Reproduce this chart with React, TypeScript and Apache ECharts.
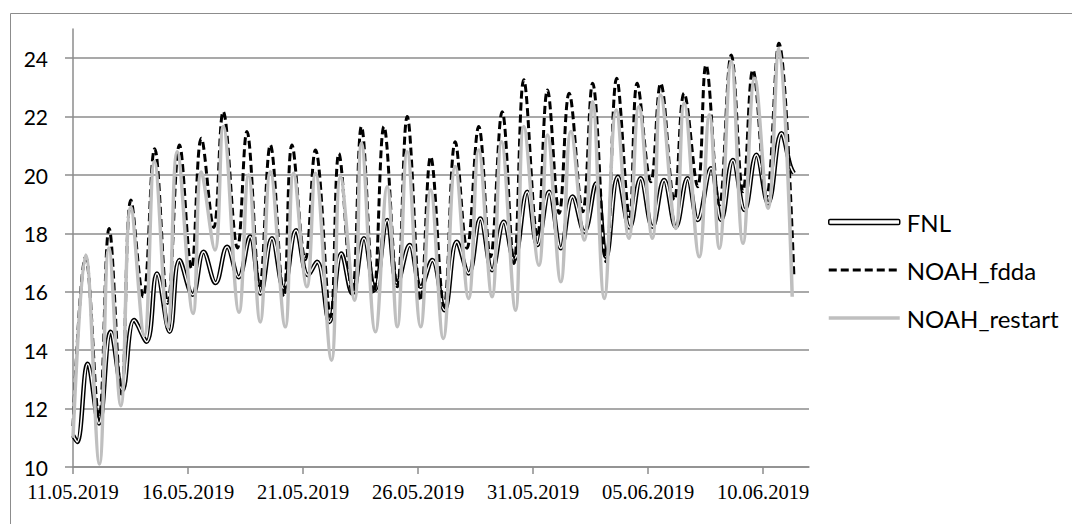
import React, { useEffect, useRef } from "react";
import * as echarts from "echarts";

// x = days since 11.05.2019 00:00, y = value
const fnl: [number, number][] = [
  [0, 11.08], [0.18, 10.86], [0.64, 13.54], [1.13, 11.49], [1.64, 14.63], [2.15, 12.63], [2.66, 15.03],
  [3.2, 14.29], [3.65, 16.63], [4.2, 14.63], [4.63, 17.09], [5.2, 15.9], [5.68, 17.37], [6.2, 16.3],
  [6.7, 17.54], [7.2, 16.5], [7.7, 17.89], [8.15, 15.94], [8.65, 17.83], [9.16, 16.11], [9.7, 18.11],
  [10.22, 16.57], [10.61, 17.03], [11.15, 14.97], [11.67, 17.31], [12.14, 15.94], [12.65, 17.83],
  [13.12, 16.06], [13.66, 18.46], [14.1, 16.29], [14.64, 17.6], [15.12, 16.17], [15.62, 17.09],
  [16.15, 15.37], [16.69, 17.71], [17.2, 16.63], [17.71, 18.51], [18.22, 16.74], [18.73, 18.4],
  [19.17, 17.09], [19.75, 19.43], [20.19, 17.6], [20.7, 19.43], [21.21, 17.49], [21.72, 19.26],
  [22.23, 18.06], [22.74, 19.71], [23.18, 17.2], [23.69, 19.94], [24.2, 18.2], [24.68, 19.89],
  [25.19, 18.23], [25.7, 19.83], [26.21, 18.23], [26.72, 19.89], [27.16, 18.46], [27.74, 20.23],
  [28.18, 18.46], [28.69, 20.51], [29.2, 18.8], [29.71, 20.69], [30.22, 19.03], [30.8, 21.43],
  [31.2, 20.29], [31.34, 20.06],
];

const noahFdda: [number, number][] = [
  [0, 11.4], [0.55, 17.2], [1.13, 11.7], [1.57, 18.17], [2.1, 12.5], [2.52, 19.14], [3.05, 15.83],
  [3.55, 20.9], [4.12, 15.6], [4.63, 21.03], [5.15, 16.8], [5.58, 21.26], [6.12, 18.2], [6.53, 22.17],
  [7.15, 17.5], [7.56, 21.49], [8.12, 16.2], [8.58, 21.03], [9.16, 15.83], [9.52, 21.03], [10.1, 17.1],
  [10.54, 20.86], [11.2, 15.14], [11.56, 20.74], [12.14, 15.94], [12.54, 21.66], [13.08, 15.94],
  [13.52, 21.66], [14.1, 16.17], [14.53, 22.0], [15.12, 15.7], [15.55, 20.63], [16.13, 15.5],
  [16.62, 21.14], [17.13, 17.49], [17.64, 21.66], [18.15, 17.2], [18.66, 22.17], [19.17, 16.97],
  [19.6, 23.26], [20.19, 17.89], [20.63, 22.91], [21.14, 18.69], [21.57, 22.8], [22.16, 18.74],
  [22.59, 23.14], [23.18, 17.03], [23.64, 23.31], [24.2, 18.57], [24.53, 23.14], [25.12, 19.77],
  [25.55, 23.14], [26.14, 19.14], [26.57, 22.8], [27.16, 19.6], [27.52, 23.77], [28.1, 18.97],
  [28.62, 24.11], [29.13, 19.43], [29.56, 23.6], [30.15, 19.26], [30.69, 24.51], [31.34, 16.6],
];

const noahRestart: [number, number][] = [
  [0, 11.0], [0.55, 17.26], [1.15, 10.1], [1.56, 17.5], [2.08, 12.1], [2.51, 18.9], [3.1, 14.5],
  [3.54, 20.46], [4.12, 14.8], [4.53, 20.8], [5.22, 15.26], [5.58, 20.1], [6.17, 17.43], [6.53, 21.66],
  [7.22, 15.3], [7.63, 20.0], [8.14, 14.97], [8.58, 20.11], [9.23, 14.8], [9.59, 20.06], [10.17, 16.17],
  [10.54, 20.06], [11.24, 13.66], [11.63, 19.94], [12.24, 15.71], [12.54, 21.09], [13.15, 14.63],
  [13.66, 19.6], [14.1, 14.8], [14.53, 20.8], [15.12, 14.8], [15.55, 19.49], [16.1, 14.4],
  [16.62, 20.29], [17.2, 15.77], [17.64, 20.86], [18.22, 15.83], [18.63, 21.14], [19.24, 15.37],
  [19.6, 21.66], [20.26, 16.91], [20.63, 21.37], [21.21, 16.34], [21.65, 21.49], [22.23, 17.77],
  [22.59, 22.51], [23.1, 15.77], [23.62, 22.23], [24.17, 17.83], [24.6, 22.34], [25.19, 17.83],
  [25.55, 22.74], [26.21, 18.17], [26.57, 22.46], [27.23, 17.2], [27.67, 22.06], [28.1, 17.49],
  [28.62, 23.89], [29.13, 17.66], [29.64, 23.31], [30.22, 18.86], [30.69, 24.34], [31.27, 15.83],
];

const xTickDays = [0, 5, 10, 15, 20, 25, 30];
const yTicks = [10, 12, 14, 16, 18, 20, 22, 24];
const startDate = Date.UTC(2019, 4, 11);

const pad = (n: number) => (n < 10 ? "0" + n : "" + n);
const fmtDate = (v: number) => {
  const d = new Date(startDate + Math.round(v * 86400000));
  return pad(d.getUTCDate()) + "." + pad(d.getUTCMonth() + 1) + "." + d.getUTCFullYear();
};

const GRID = "#8c8c8c";
const SERIF = "'Liberation Serif', 'Times New Roman', Times, serif";

export default function App() {
  const ref = useRef<HTMLDivElement>(null);
  useEffect(() => {
    if (!ref.current) return;
    const chart = echarts.init(ref.current, undefined, { renderer: "svg" });
    const lineBase = {
      type: "line",
      smooth: 0.4,
      showSymbol: false,
      symbol: "none",
      symbolSize: 0,
      clip: false,
    };
    chart.setOption({
      animation: false,
      backgroundColor: "#fff",
      grid: { left: 73, right: 263, top: 29, bottom: 57, containLabel: false },
      graphic: [
        {
          type: "rect",
          shape: { x: 10.5, y: 13.5, width: 1100, height: 600 },
          style: { fill: "none", stroke: GRID, lineWidth: 1 },
          silent: true,
        },
      ],
      legend: {
        orient: "vertical",
        left: 827,
        top: 210,
        padding: 0,
        itemWidth: 71,
        itemHeight: 5,
        itemGap: 24,
        textStyle: { fontFamily: "Lato", fontSize: 24, color: "#000", padding: [0, 0, 0, 2] },
        data: [
          { name: "FNL", icon: "roundRect", itemStyle: { color: "#fff", borderColor: "#000", borderWidth: 1.5 } },
          {
            name: "NOAH_fdda",
            itemStyle: { opacity: 0 },
            lineStyle: { color: "#000", width: 3, type: [8, 4] },
          },
          {
            name: "NOAH_restart",
            itemStyle: { opacity: 0 },
            lineStyle: { color: "#bfbfbf", width: 3.5 },
          },
        ],
      },
      xAxis: {
        type: "value",
        min: 0,
        max: 32,
        interval: 5,
        axisLine: { lineStyle: { color: GRID, width: 1.5 } },
        axisTick: { show: true, length: 7, lineStyle: { color: GRID, width: 1.5 }, customValues: xTickDays },
        axisLabel: {
          customValues: xTickDays,
          formatter: (v: number) => fmtDate(v),
          fontFamily: SERIF,
          fontSize: 20.5,
          color: "#000",
          margin: 14,
        },
        splitLine: { show: false },
      },
      yAxis: {
        type: "value",
        min: 10,
        max: 25,
        interval: 2,
        axisLine: { show: true, lineStyle: { color: GRID, width: 1.5 } },
        axisTick: { show: true, length: 8, lineStyle: { color: GRID, width: 1.5 }, customValues: yTicks },
        axisLabel: {
          customValues: yTicks,
          fontFamily: "Lato",
          fontSize: 21,
          color: "#000",
          margin: 25,
        },
        splitLine: { show: true, lineStyle: { color: GRID, width: 1.5 } },
      },
      series: [
        {
          ...lineBase,
          name: "FNL",
          data: fnl,
          lineStyle: { color: "#000", width: 4.5 },
          itemStyle: { color: "#000" },
        },
        {
          ...lineBase,
          name: "FNL_inner",
          data: fnl,
          lineStyle: { color: "#fff", width: 1.5 },
          itemStyle: { color: "#fff" },
        },
        {
          ...lineBase,
          name: "NOAH_fdda",
          data: noahFdda,
          lineStyle: { color: "#000", width: 3, type: [8, 4] },
          itemStyle: { color: "#000" },
        },
        {
          ...lineBase,
          name: "NOAH_restart",
          data: noahRestart,
          lineStyle: { color: "#bfbfbf", width: 3.5 },
          itemStyle: { color: "#bfbfbf" },
        },
      ],
    });
    return () => chart.dispose();
  }, []);
  return (
    <div
      ref={ref}
      style={{ position: "fixed", left: 0, top: 0, width: 1072, height: 524, background: "#fff" }}
    />
  );
}
